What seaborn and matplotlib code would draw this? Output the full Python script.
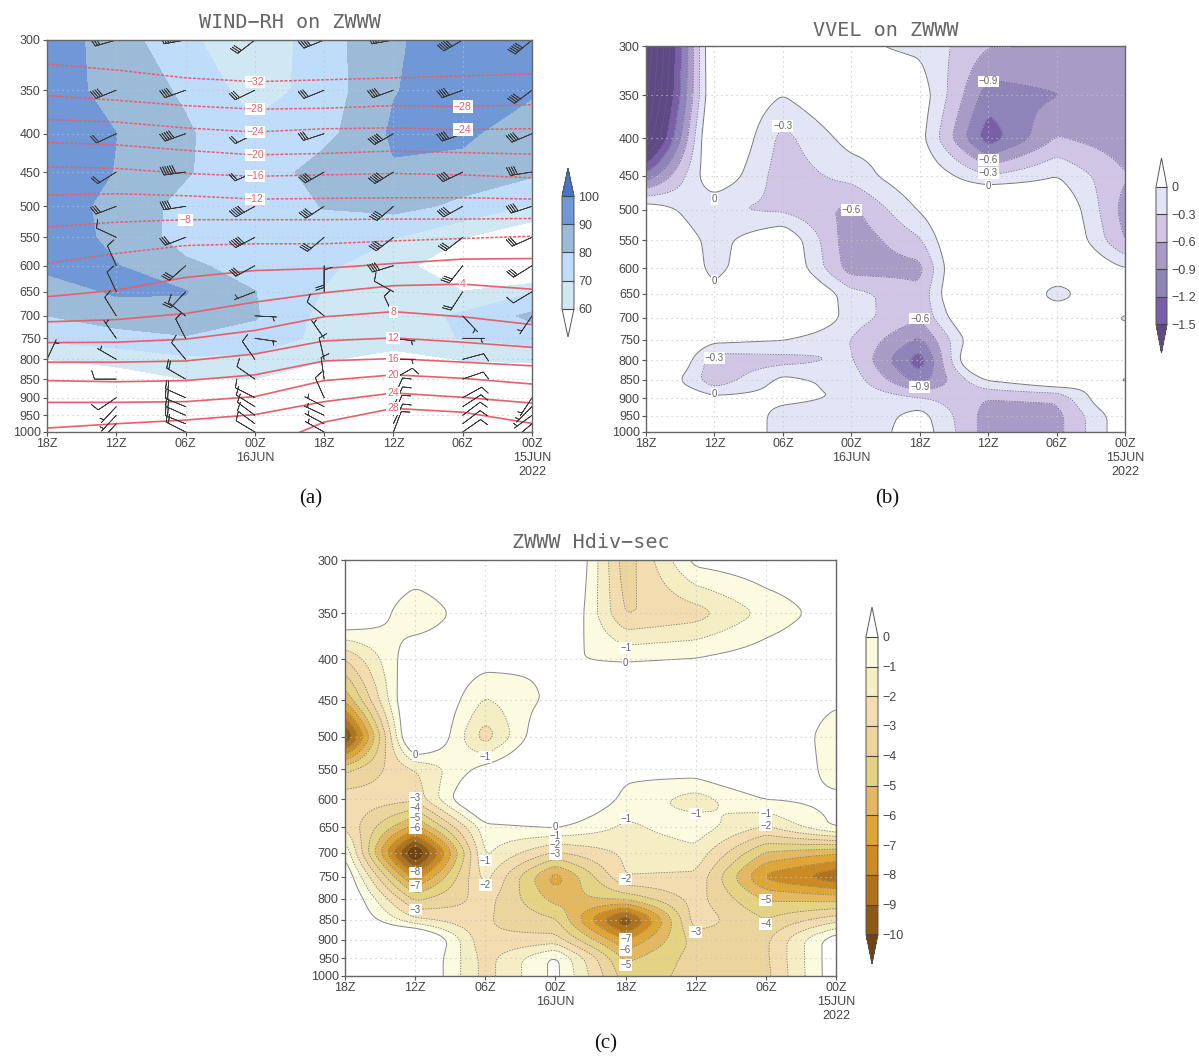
import numpy as np
import pandas as pd
import seaborn as sns
import matplotlib
matplotlib.use("Agg")
import matplotlib.pyplot as plt
from matplotlib.ticker import NullLocator, NullFormatter

# grid of the time-height sections
hours = [42, 36, 30, 24, 18, 12, 6, 0]
levels = [300, 350, 400, 450, 500, 550, 600, 650, 700, 750, 800, 850, 900, 950, 1000]
time_labels = ["18Z", "12Z", "06Z", "00Z\n16JUN", "18Z", "12Z", "06Z", "00Z\n15JUN\n2022"]

# (a) relative humidity
rh = [
    [95.8, 85.1, 72, 62.9, 75.5, 89, 94, 96],
    [97, 85, 78.75, 64.9, 74.7, 89.5, 95, 92],
    [97, 90.1, 81.2, 73, 76.9, 91.5, 93, 81],
    [98, 89.5, 80.9, 73, 85, 89, 84.7, 82],
    [97, 86, 77, 73, 80.5, 83, 78, 69],
    [96, 87.5, 76, 72, 75, 70.5, 60.5, 50],
    [92, 90.4, 82, 76, 71.6, 65, 50, 42],
    [86, 91, 90.5, 80.2, 69.5, 64, 60.2, 69],
    [80, 86, 87, 81, 67, 64, 72, 82.3],
    [72, 75, 79, 75.7, 67.3, 65, 70.5, 74],
    [60, 64, 68, 68, 61, 56, 60.5, 62],
    [50, 53, 60, 59.8, 50, 48, 54, 50],
    [48, 50, 55, 52, 46, 45, 48, 46],
    [46, 48, 50, 48, 44, 42, 44, 42],
    [44, 45, 46, 44, 42, 40, 42, 40],
]
rh_levels = [60, 70, 80, 90, 100]
rh_colors = ["#ffffff", "#cfe8f3", "#bfdcfa", "#9cbbd9", "#7097d6", "#4a74c9"]

# (a) isotherms: pressure of each temperature line at every time
iso_temps = [-32, -28, -24, -20, -16, -12, -8, -4, 0, 4, 8, 12, 16, 20, 24, 28]
iso_pres = [
    [323, 329, 337, 341, 339, 337, 335, 333],
    [356, 361, 367, 371, 370, 367, 368, 366],
    [383, 386, 393, 398, 394, 393, 395, 394],
    [411, 414, 421, 427, 425, 422, 424, 426],
    [443, 445, 452, 456, 454, 452, 454, 458],
    [483, 481, 484, 489, 488, 487, 487, 489],
    [533, 525, 521, 521, 521, 520, 520, 519],
    [596, 578, 564, 561, 561, 556, 552, 548],
    [660, 647, 622, 609, 605, 596, 588, 587],
    [713, 708, 695, 671, 652, 638, 635, 645],
    [760, 759, 752, 732, 702, 691, 702, 719],
    [807, 807, 804, 787, 756, 749, 759, 771],
    [854, 857, 854, 839, 804, 798, 807, 816],
    [913, 913, 911, 897, 854, 839, 848, 863],
    [988, 975, 964, 948, 911, 887, 899, 915],
    [1090, 1080, 1070, 1060, 970, 930, 941, 974],
]
# temperature, index of the time it is labelled at
iso_labels = [(-32, 3), (-28, 3), (-24, 3), (-20, 3), (-16, 3), (-12, 3), (-28, 6), (-24, 6),
              (-8, 2), (4, 6), (8, 5), (12, 5), (16, 5), (20, 5), (24, 5), (28, 5)]

# (a) wind barbs: speed in knots, direction on the page in degrees
barb_levels = [300, 350, 400, 450, 500, 550, 600, 650, 700, 750, 800, 850, 900, 925, 950, 975, 1000]
barb_speed = [
    [40, 30, 50, 30, 40, 40, 50, 50],
    [40, 40, 40, 30, 30, 40, 40, 40],
    [40, 20, 50, 20, 30, 50, 40, 40],
    [40, 20, 60, 20, 40, 50, 40, 40],
    [40, 30, 40, 50, 40, 40, 40, 40],
    [30, 10, 30, 50, 30, 40, 30, 30],
    [30, 10, 30, 30, 20, 40, 30, 30],
    [20, 10, 20, 5, 10, 10, 20, 10],
    [20, 10, 10, 5, 10, 10, 5, 5],
    [10, 5, 10, 5, 5, 5, 5, 5],
    [5, 5, 10, 10, 10, 5, 10, 5],
    [5, 10, 20, 10, 10, 10, 10, 5],
    [5, 10, 20, 10, 10, 10, 10, 5],
    [5, 5, 20, 10, 5, 10, 10, 5],
    [5, 5, 20, 10, 5, 10, 10, 5],
    [5, 5, 20, 10, 5, 10, 10, 5],
    [5, 5, 20, 10, 5, 10, 10, 5],
]
barb_dir = [
    [20, 16, 10, 38, 22, 10, 30, 40],
    [20, 22, 20, 26, 22, 20, 20, 37],
    [20, 25, 20, 27, 18, 30, 20, 23],
    [20, 32, 8, 24, 30, 32, 26, 9],
    [20, 21, 9, 29, 33, 41, 29, 18],
    [20, -25, 21, 28, 40, 38, 38, 24],
    [20, -66, 42, 29, 90, 17, 52, 32],
    [20, -65, 47, 21, -90, -29, 57, 31],
    [20, -58, -38, 177, -39, -65, 133, 56],
    [20, -55, -63, 172, -55, 173, 180, 180],
    [-115, -30, -50, -55, -77, 180, -165, 180],
    [20, 0, -30, -35, -82, -150, -161, 180],
    [20, 34, -24, -27, -66, -115, -151, 57],
    [20, 47, -22, -32, -27, -115, -147, 45],
    [20, 47, -24, -37, -25, -113, -143, 36],
    [20, 47, -22, -37, -28, -115, -143, 40],
    [20, 47, -27, -31, -29, -111, -145, 40],
]

# (b) vertical velocity
vvel = [
    [-3.0, .45, .4, .05, -.07, -.58, -.59, -.75],
    [-2.8, .4, 0.0, .4, .2, -1.05, -.92, -.85],
    [-2.4, .55, -.4, .13, .12, -1.4, -.58, -.78],
    [-1.1, .3, -.47, -.19, .31, -.28, 0.0, -.58],
    [.24, -.29, -.36, -.68, .03, .8, .4, -.72],
    [.5, -.12, .33, -.82, -.34, 1.0, .5, -.62],
    [.6, -.1, .4, -.76, -.7, 1.2, .6, 0.0],
    [.6, .09, .7, -.18, -.52, 1.15, -.3, .9],
    [.7, .7, .7, -.15, -.56, .77, .6, -.14],
    [.6, .1, 0.0, -.31, -.95, .5, .5, .6],
    [1.0, -.5, -.42, -.26, -1.4, 1.0, .6, .6],
    [.49, -.52, .1, -.12, -1.05, .01, .35, -.12],
    [.5, .1, .1, -.04, -.26, -.6, -.55, .6],
    [.5, .5, -.15, -.28, .13, -.74, -.7, .25],
    [.5, .5, -.15, -.28, .2, -.75, -.7, .25],
]
vvel_fill = [-1.5, -1.2, -.9, -.6, -.3, 0]
vvel_lines = [-3.0, -2.7, -2.4, -2.1, -1.8, -1.5, -1.2, -.9, -.6, -.3, 0]
vvel_colors = ["#5f4a86", "#7a5fa8", "#8e84b9", "#a89bc6", "#d0c5e4", "#e3e5f6", "#ffffff"]
vvel_labels = [("0", 36, 483), ("0", 36, 625), ("0", 36, 888), ("\u22120.3", 30, 385),
               ("\u22120.6", 24, 500), ("\u22120.9", 12, 335), ("\u22120.6", 12, 428),
               ("\u22120.3", 12, 446), ("0", 12, 464), ("\u22120.6", 18, 702),
               ("\u22120.9", 18, 870), ("\u22120.3", 36, 793)]

# (c) horizontal divergence
hdiv = [
    [1, 1, 1, 3, -3.6, .37, .8, .8],
    [1.7, -.9, 1, 2.1, -3.1, -2.5, -.7, .58],
    [-3, 1, .5, .05, -.05, .1, .6, 1],
    [-5.8, 2, -1.1, .3, 1, 1, 1, .3],
    [-10.6, 2.5, -2.6, 1.8, 2, 2, 2, -.9],
    [-4.2, -2, .44, 2, .3, .6, 2, -.7],
    [-2.4, -2.7, 2.5, 2, -.3, -1.5, 0, .33],
    [-2.2, -6.3, -.4, .15, -1.2, -.4, -2.1, .2],
    [-.2, -11.8, -.8, -3.1, -1.8, -1.3, -5.1, -5.9],
    [1, -7.5, -1.6, -6.6, -1.95, -2.2, -7.3, -8.9],
    [1.5, -4.2, -2.6, -5.4, -4.7, -2.6, -5.1, -5.4],
    [1.5, -1.8, -2.9, -3.9, -10.2, -2.4, -3.95, -2.4],
    [1.5, 2.5, -2.9, -2.6, -7, -3.6, -3.2, .8],
    [1.5, 1.6, -2.4, .3, -5.2, -3.6, -3.2, .8],
    [1.5, 1.6, -2.4, .3, -4.5, -3.7, -3.3, .8],
]
hdiv_fill = [-10, -9, -8, -7, -6, -5, -4, -3, -2, -1, 0]
hdiv_colors = ["#6e4510", "#8c5a14", "#ae731c", "#cb8a24", "#dea636", "#e4b860",
               "#e3d382", "#ecd49d", "#f3dcb0", "#f5edc3", "#fcfbe0", "#ffffff"]
hdiv_labels = [("0", 36, 528), ("\u22121", 30, 530), ("\u22121", 18, 387), ("0", 18, 404),
               ("\u22121", 18, 634), ("\u22121", 12, 625), ("\u22121", 6, 626), ("\u22122", 6, 647),
               ("0", 24, 650), ("\u22123", 36, 597), ("\u22124", 36, 615), ("\u22125", 36, 633),
               ("\u22126", 36, 651), ("\u22128", 36, 741), ("\u22127", 36, 771), ("\u22123", 36, 825),
               ("\u22121", 30, 716), ("\u22122", 30, 769), ("\u22121", 24, 667), ("\u22122", 24, 685),
               ("\u22123", 24, 703), ("\u22122", 18, 755), ("\u22127", 18, 898), ("\u22126", 18, 928),
               ("\u22125", 18, 968), ("\u22123", 12, 880), ("\u22125", 6, 803), ("\u22124", 6, 860)]

sns.set_theme(style="white")
plt.rcParams["font.family"] = ["Liberation Sans", "DejaVu Sans"]
W, H = 1199, 1056
fig = plt.figure(figsize=(W / 100, H / 100), dpi=100)
text_col = "#444444"
red = "#e4606f"
dash = [(0, (2, 1.5))]


def box(left, top, right, bottom):
    return fig.add_axes([left / W, 1 - bottom / H, (right - left) / W, (bottom - top) / H])


def setup_axes(ax, title, title_y):
    ax.set_yscale("log")
    ax.set_ylim(1000, 300)
    ax.set_xlim(42, 0)
    ax.yaxis.set_minor_locator(NullLocator())
    ax.yaxis.set_minor_formatter(NullFormatter())
    ax.set_yticks(levels, [str(p) for p in levels])
    ax.set_xticks(hours, time_labels)
    ax.set_xlabel("")
    ax.set_ylabel("")
    ax.tick_params(axis="both", length=3, width=0.8, color="#555555", labelsize=9,
                   labelcolor=text_col, pad=1.5, bottom=True, left=True)
    ax.grid(True, color="#c4c4c4", linestyle=(0, (1, 3.5)), linewidth=0.8)
    ax.set_axisbelow(False)
    for spine in ax.spines.values():
        spine.set_color("#666666")
        spine.set_linewidth(1.0)
        spine.set_zorder(5)
    fig.text((ax.get_position().x0 + ax.get_position().x1) / 2, 1 - title_y / H, title,
             ha="center", va="center", fontsize=14.5, color="#666666", family="DejaVu Sans Mono")


def add_colorbar(cs, rect, ticks, labels, frac):
    cax = box(*rect)
    cb = fig.colorbar(cs, cax=cax, ticks=ticks, extendfrac=frac, drawedges=True)
    cb.ax.set_yticklabels(labels)
    cb.ax.tick_params(length=0, labelsize=9, labelcolor=text_col, pad=3)
    cb.outline.set_edgecolor("#555555")
    cb.outline.set_linewidth(0.7)
    cb.dividers.set_color("#444444")
    cb.dividers.set_linewidth(0.8)


def blur(a, size, axis):
    kernel = np.ones(size) / size
    pad = size // 2
    return np.apply_along_axis(
        lambda v: np.convolve(np.pad(v, pad, mode="edge"), kernel, mode="valid"), axis, a)


def smooth_field(values):
    # draw on a fine grid and round the corners a little, like the GrADS contour smoothing
    vals = np.array(values, dtype=float)
    col = np.arange(8)
    logp = np.log(levels)
    fine_col = np.linspace(0, 7, 211)
    fine_logp = np.linspace(logp[0], logp[-1], 241)
    by_level = np.array([np.interp(fine_logp, logp, vals[:, j]) for j in col]).T
    z = np.array([np.interp(fine_col, col, row) for row in by_level])
    z = blur(blur(z, 5, 1), 7, 0)
    return 42 - 6 * fine_col, np.exp(fine_logp), z


def contour_labels(ax, labels):
    for txt, hr, p in labels:
        ax.text(hr, p, txt, ha="center", va="center", fontsize=7, color="#666666", zorder=6,
                bbox=dict(fc="white", ec="none", pad=0.6))


# panel a: RH shading, isotherms, barbs
ax_a = box(47, 40, 532, 432)
cs_a = ax_a.contourf(hours, levels, rh, levels=rh_levels, colors=rh_colors, extend="both")
iso = pd.DataFrame([{"hour": h, "pres": p, "temp": t}
                    for t, row in zip(iso_temps, iso_pres) for h, p in zip(hours, row)])
sns.lineplot(data=iso[iso.temp < 0], x="hour", y="pres", units="temp", estimator=None, sort=False,
             color=red, linewidth=1.1, linestyle=(0, (2, 1)), ax=ax_a, zorder=3)
sns.lineplot(data=iso[iso.temp >= 0], x="hour", y="pres", units="temp", estimator=None, sort=False,
             color=red, linewidth=1.2, ax=ax_a, zorder=3)
setup_axes(ax_a, "WIND\u2212RH on ZWWW", 22)
bx, by = np.meshgrid(hours, barb_levels)
bu = np.array(barb_speed) * np.cos(np.radians(barb_dir))
bv = np.array(barb_speed) * np.sin(np.radians(barb_dir))
ax_a.barbs(bx, by, bu, bv, pivot="tip", length=5.6, linewidth=0.55, color="#3a3a3a", zorder=4,
           barb_increments=dict(half=5, full=10, flag=100), sizes=dict(emptybarb=0.0, spacing=0.11, height=0.38))
for t, i in iso_labels:
    p = iso_pres[iso_temps.index(t)][i]
    txt = str(t).replace("-", "\u2212")
    ax_a.text(hours[i], p, txt, ha="center", va="center", fontsize=7.5, color=red, zorder=6,
              bbox=dict(fc="white", ec="none", pad=0.8))
add_colorbar(cs_a, (562, 168, 574, 337), rh_levels, ["60", "70", "80", "90", "100"], 0.25)

# panel b: vertical velocity
ax_b = box(646, 46, 1125, 432)
xb, yb, z_b = smooth_field(vvel)
cs_b = ax_b.contourf(xb, yb, z_b, levels=vvel_fill, colors=vvel_colors, extend="both")
ax_b.contour(xb, yb, z_b, levels=vvel_lines[:-1], colors="#666688", linewidths=0.55, linestyles=dash)
ax_b.contour(xb, yb, z_b, levels=[0], colors="#777777", linewidths=0.7, linestyles="solid")
setup_axes(ax_b, "VVEL on ZWWW", 31)
contour_labels(ax_b, vvel_labels)
add_colorbar(cs_b, (1156, 158, 1167, 353), vvel_fill, ["\u22121.5", "\u22121.2", "\u22120.9", "\u22120.6", "\u22120.3", "0"], 0.21)

# panel c: horizontal divergence
ax_c = box(345, 560, 836, 976)
xc, yc, z_c = smooth_field(hdiv)
cs_c = ax_c.contourf(xc, yc, z_c, levels=hdiv_fill, colors=hdiv_colors, extend="both")
ax_c.contour(xc, yc, z_c, levels=hdiv_fill[:-1], colors="#777766", linewidths=0.55, linestyles=dash)
ax_c.contour(xc, yc, z_c, levels=[0], colors="#888888", linewidths=0.7, linestyles="solid")
setup_axes(ax_c, "ZWWW Hdiv\u2212sec", 543)
contour_labels(ax_c, hdiv_labels)
add_colorbar(cs_c, (866, 607, 878, 964), hdiv_fill, [str(v).replace("-", "\u2212") for v in hdiv_fill], 0.1)

for txt, x, y in [("(a)", 311, 499), ("(b)", 887, 499), ("(c)", 606, 1044)]:
    fig.text(x / W, 1 - y / H, txt, ha="center", va="center", fontsize=15, family="Liberation Serif", color="#111111")

fig.savefig("out.png", dpi=100)
